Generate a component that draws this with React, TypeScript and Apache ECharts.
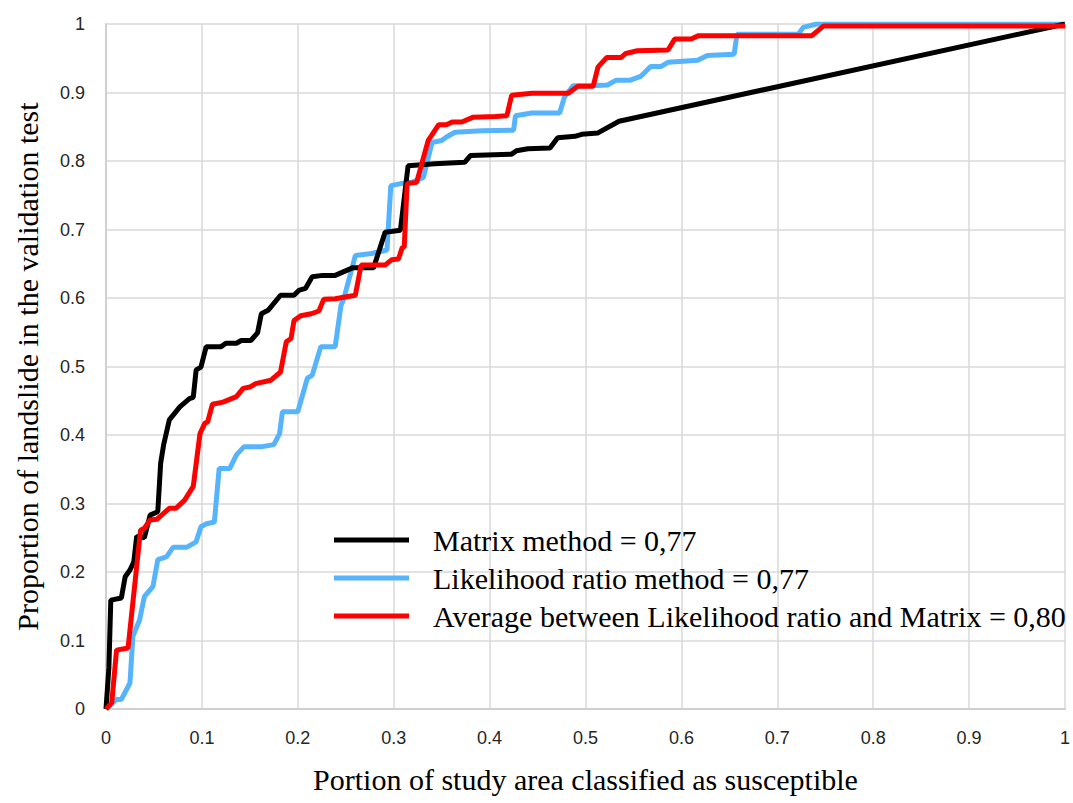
import React, { useEffect, useRef } from "react";
import * as echarts from "echarts";

const seriesNames = [
  "Matrix method = 0,77",
  "Likelihood ratio method = 0,77",
  "Average between Likelihood ratio and Matrix = 0,80",
];

const matrixPoints: [number, number][] = [
  [0.0, 0.0], [0.003, 0.06], [0.005, 0.159], [0.016, 0.162], [0.02, 0.193],
  [0.025, 0.203], [0.029, 0.215], [0.032, 0.252], [0.04, 0.25], [0.046, 0.283],
  [0.054, 0.288], [0.057, 0.359], [0.06, 0.385], [0.066, 0.422], [0.077, 0.441],
  [0.087, 0.453], [0.091, 0.455], [0.094, 0.495], [0.099, 0.499], [0.1045, 0.529],
  [0.12, 0.529], [0.125, 0.534], [0.136, 0.534], [0.141, 0.538], [0.151, 0.538],
  [0.158, 0.549], [0.162, 0.577], [0.169, 0.582], [0.182, 0.604], [0.196, 0.604],
  [0.201, 0.611], [0.208, 0.614], [0.215, 0.631], [0.226, 0.633], [0.239, 0.633],
  [0.257, 0.644], [0.279, 0.644], [0.291, 0.696], [0.307, 0.699], [0.315, 0.793],
  [0.343, 0.796], [0.374, 0.798], [0.38, 0.808], [0.423, 0.81], [0.428, 0.815],
  [0.44, 0.818], [0.463, 0.819], [0.471, 0.834], [0.489, 0.836], [0.496, 0.839],
  [0.513, 0.841], [0.535, 0.858], [1.0, 1.0],
];

const likelihoodPoints: [number, number][] = [
  [0.0, 0.0], [0.011, 0.014], [0.016, 0.014], [0.025, 0.038], [0.028, 0.106],
  [0.035, 0.13], [0.04, 0.164], [0.049, 0.179], [0.054, 0.218], [0.063, 0.222],
  [0.07, 0.236], [0.084, 0.236], [0.094, 0.244], [0.099, 0.266], [0.104, 0.27],
  [0.113, 0.273], [0.118, 0.351], [0.129, 0.351], [0.136, 0.371], [0.144, 0.383],
  [0.163, 0.383], [0.175, 0.386], [0.181, 0.402], [0.184, 0.434], [0.2, 0.434],
  [0.21, 0.483], [0.215, 0.487], [0.224, 0.529], [0.239, 0.529], [0.245, 0.589],
  [0.248, 0.599], [0.26, 0.662], [0.277, 0.665], [0.293, 0.67], [0.297, 0.764],
  [0.311, 0.768], [0.319, 0.769], [0.331, 0.776], [0.34, 0.827], [0.35, 0.83],
  [0.355, 0.835], [0.364, 0.842], [0.392, 0.844], [0.425, 0.845], [0.427, 0.866],
  [0.444, 0.87], [0.473, 0.87], [0.478, 0.893], [0.487, 0.91], [0.506, 0.91],
  [0.523, 0.911], [0.532, 0.918], [0.547, 0.918], [0.558, 0.924], [0.568, 0.938],
  [0.579, 0.938], [0.586, 0.944], [0.617, 0.947], [0.627, 0.954], [0.655, 0.956],
  [0.658, 0.985], [0.722, 0.985], [0.727, 0.995], [0.741, 1.0], [1.0, 1.0],
];

const averagePoints: [number, number][] = [
  [0.0, 0.0], [0.006, 0.009], [0.011, 0.086], [0.023, 0.089], [0.036, 0.261],
  [0.04, 0.264], [0.046, 0.276], [0.053, 0.277], [0.058, 0.283], [0.066, 0.293],
  [0.073, 0.293], [0.082, 0.305], [0.091, 0.325], [0.098, 0.402], [0.103, 0.417],
  [0.106, 0.419], [0.111, 0.445], [0.122, 0.448], [0.136, 0.456], [0.143, 0.468],
  [0.15, 0.47], [0.156, 0.475], [0.172, 0.48], [0.182, 0.492], [0.188, 0.536],
  [0.193, 0.541], [0.196, 0.567], [0.203, 0.574], [0.214, 0.577], [0.222, 0.581],
  [0.227, 0.598], [0.239, 0.599], [0.26, 0.604], [0.266, 0.648], [0.291, 0.648],
  [0.298, 0.656], [0.305, 0.657], [0.309, 0.674], [0.311, 0.674], [0.314, 0.767],
  [0.324, 0.769], [0.336, 0.83], [0.347, 0.853], [0.355, 0.853], [0.361, 0.857],
  [0.371, 0.857], [0.383, 0.864], [0.406, 0.865], [0.418, 0.866], [0.423, 0.896],
  [0.444, 0.899], [0.482, 0.899], [0.492, 0.909], [0.508, 0.909], [0.513, 0.937],
  [0.522, 0.951], [0.537, 0.951], [0.542, 0.957], [0.554, 0.961], [0.586, 0.962],
  [0.593, 0.978], [0.61, 0.978], [0.618, 0.983], [0.736, 0.983], [0.748, 0.997],
  [1.0, 0.997],
];

const seriesColors = ["#000000", "#56b4fc", "#ff0000"];
const xAxisTitle = "Portion of study area classified as susceptible";
const yAxisTitle = "Proportion of landslide in the validation test";

const serif = "'Liberation Serif', 'Times New Roman', serif";
const sans = "'Liberation Sans', Arial, sans-serif";

export default function App() {
  const ref = useRef<HTMLDivElement>(null);

  useEffect(() => {
    if (!ref.current) return;
    const chart = echarts.init(ref.current, undefined, { renderer: "svg" });
    const allData = [matrixPoints, likelihoodPoints, averagePoints];
    const zs = [3, 2, 4];
    chart.setOption({
      animation: false,
      backgroundColor: "#ffffff",
      grid: { left: 106, right: 3, top: 24, bottom: 94, containLabel: false },
      legend: {
        orient: "vertical",
        left: 334,
        top: 525,
        padding: 0,
        itemWidth: 75,
        itemHeight: 5,
        itemGap: 8,
        icon: "rect",
        data: seriesNames,
        textStyle: {
          fontFamily: serif,
          fontSize: 30,
          color: "#000",
          lineHeight: 30,
          padding: [0, 0, 0, 19],
        },
      },
      xAxis: {
        type: "value",
        min: 0,
        max: 1,
        interval: 0.1,
        name: xAxisTitle,
        nameLocation: "middle",
        nameGap: 55,
        nameTextStyle: { fontFamily: serif, fontSize: 30, color: "#000" },
        axisLine: { show: true, lineStyle: { color: "#cfcfcf", width: 2 } },
        axisTick: { show: false },
        axisLabel: { margin: 20, fontFamily: sans, fontSize: 18, color: "#262626" },
        splitLine: { show: true, lineStyle: { color: "#d9d9d9", width: 1.5 } },
      },
      yAxis: {
        type: "value",
        min: 0,
        max: 1,
        interval: 0.1,
        name: yAxisTitle,
        nameLocation: "middle",
        nameGap: 64,
        nameTextStyle: { fontFamily: serif, fontSize: 30, color: "#000" },
        axisLine: { show: true, lineStyle: { color: "#d0d0d0", width: 2 } },
        axisTick: { show: false },
        axisLabel: { margin: 21, fontFamily: sans, fontSize: 18, color: "#262626" },
        splitLine: { show: true, lineStyle: { color: "#d9d9d9", width: 1.5 } },
      },
      series: seriesNames.map((name, i) => ({
        name,
        type: "line",
        data: allData[i],
        showSymbol: false,
        symbol: "none",
        z: zs[i],
        color: seriesColors[i],
        lineStyle: { color: seriesColors[i], width: 5 },
      })),
    });
    return () => chart.dispose();
  }, []);

  return (
    <div
      ref={ref}
      style={{ position: "fixed", left: 0, top: 0, width: 1073, height: 803, background: "#fff" }}
    />
  );
}
